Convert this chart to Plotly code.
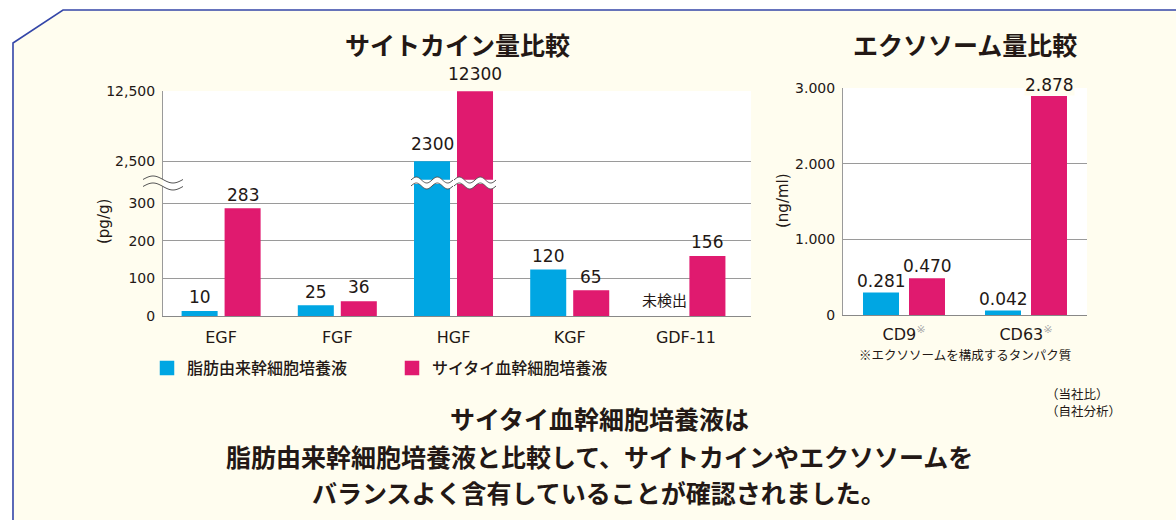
import math
import plotly.graph_objects as go

# ---------------- data ----------------
cytokines = ["EGF", "FGF", "HGF", "KGF", "GDF-11"]
adipose_cyto = [10, 25, 2300, 120, None]        # None = 未検出
saitai_cyto = [283, 36, 12300, 65, 156]
exosome_markers = ["CD9", "CD63"]
adipose_exo = [0.281, 0.042]
saitai_exo = [0.470, 2.878]
series_names = ["脂肪由来幹細胞培養液", "サイタイ血幹細胞培養液"]
lower_ticks = [0, 100, 200, 300]
upper_ticks = [2500, 12500]
upper_ticktext = ["2,500", "12,500"]
exo_ticks = [0, 1, 2, 3]
exo_ticktext = ["0", "1.000", "2.000", "3.000"]
not_detected = "未検出"

# ---------------- style ----------------
W, H = 1176, 520
BLUE = "#00a6e3"
PINK = "#e01a6f"
CREAM = "#fffdef"
DARK = "#231815"
GRID = "#9a9a9a"
NUM_FONT = "DejaVu Sans, Noto Sans CJK JP"
JP_FONT = "Noto Sans CJK JP"

def pxx(px):
    return px / W

def pxy(py):
    return 1 - py / H

# left chart geometry
LX0, LX1 = 163, 751
L_RANGE = [-0.5, 4.56]
L_BOTTOM, L_BREAK, L_TOP = 316, 184, 91
LOWER_MAX = 351
UPPER_MIN = -786
# right chart geometry
RX0, RX1 = 843, 1087
R_BOTTOM, R_TOP = 315, 88

LPX = (LX1 - LX0) / (L_RANGE[1] - L_RANGE[0])   # px per category (left)
RPX = (RX1 - RX0) / 2.0                          # px per category (right)
EDGE = 2.5                                       # outline width (enlarges legend swatch)

LW, LOFF_B, LOFF_P = 0.31, -0.34, 0.03
RW, ROFF_B, ROFF_P = 0.295, -0.336, 0.041
le, re_ = EDGE / LPX, EDGE / RPX

fig = go.Figure()

upper_vals_b = [v if (v is not None and v > LOWER_MAX) else None for v in adipose_cyto]
upper_vals_p = [v if v > LOWER_MAX else None for v in saitai_cyto]

def bar(x, y, name, color, w, off, e, xa, ya, legend):
    return go.Bar(x=x, y=y, name=name, marker=dict(color=color, line=dict(color=color, width=EDGE)),
                  width=w - e, offset=off + e / 2, xaxis=xa, yaxis=ya, showlegend=legend,
                  cliponaxis=True)

fig.add_trace(bar(cytokines, adipose_cyto, series_names[0], BLUE, LW, LOFF_B, le, "x", "y", True))
fig.add_trace(bar(cytokines, saitai_cyto, series_names[1], PINK, LW, LOFF_P, le, "x", "y", True))
fig.add_trace(bar(cytokines, upper_vals_b, series_names[0], BLUE, LW, LOFF_B, le, "x2", "y2", False))
fig.add_trace(bar(cytokines, upper_vals_p, series_names[1], PINK, LW, LOFF_P, le, "x2", "y2", False))
fig.add_trace(bar(exosome_markers, adipose_exo, series_names[0], BLUE, RW, ROFF_B, re_, "x3", "y3", False))
fig.add_trace(bar(exosome_markers, saitai_exo, series_names[1], PINK, RW, ROFF_P, re_, "x3", "y3", False))

annotations = []
LABEL_FONT = dict(family=NUM_FONT, size=17, color=DARK)

def add_label(x, y, text, xref, yref, font=LABEL_FONT, yshift=3, bg=None):
    a = dict(x=x, y=y, text=text, xref=xref, yref=yref, showarrow=False,
             xanchor="center", yanchor="bottom", yshift=yshift, font=font)
    if bg:
        a["bgcolor"] = bg
        a["borderpad"] = 0
    annotations.append(a)

for i, v in enumerate(adipose_cyto):
    cx = i + LOFF_B + LW / 2
    if v is None:
        add_label(cx, 0, not_detected, "x", "y",
                  font=dict(family=JP_FONT, size=15, color=DARK), yshift=4)
    elif v > LOWER_MAX:
        add_label(cx, v, str(v), "x2", "y2", yshift=6)
    else:
        add_label(cx, v, str(v), "x", "y")
for i, v in enumerate(saitai_cyto):
    cx = i + LOFF_P + LW / 2
    if v > LOWER_MAX:
        add_label(cx, v, str(v), "x2", "y2", yshift=6)
    else:
        add_label(cx, v, str(v), "x", "y")
for i, v in enumerate(adipose_exo):
    add_label(i + ROFF_B + RW / 2, v, f"{v:.3f}", "x3", "y3", yshift=1)
for i, v in enumerate(saitai_exo):
    add_label(i + ROFF_P + RW / 2, v, f"{v:.3f}", "x3", "y3", yshift=1,
              bg=CREAM if v > 2.7 else None)

def paper_text(x, y, text, size, bold=False, xanchor="center", family=JP_FONT, angle=0, color=DARK):
    annotations.append(dict(x=pxx(x), y=pxy(y), xref="paper", yref="paper", text=text,
                            showarrow=False, xanchor=xanchor, yanchor="middle", textangle=angle,
                            font=dict(family=family, size=size, color=color,
                                      weight="bold" if bold else "normal")))

paper_text(457, 44, "サイトカイン量比較", 25, bold=True)
paper_text(965, 44, "エクソソーム量比較", 25, bold=True)
paper_text(104, 222, "(pg/g)", 15, family=NUM_FONT, angle=-90)
paper_text(783, 201, "(ng/ml)", 15, family=NUM_FONT, angle=-90)
paper_text(965, 354, "※エクソソームを構成するタンパク質", 12.5)
paper_text(1044, 393, "（当社比）", 12.5, xanchor="left")
paper_text(1044, 410, "（自社分析）", 12.5, xanchor="left")
paper_text(599, 418, "サイタイ血幹細胞培養液は", 25, bold=True)
paper_text(599, 456, "脂肪由来幹細胞培養液と比較して、サイトカインやエクソソームを", 25, bold=True)
paper_text(599, 492, "バランスよく含有していることが確認されました。", 25, bold=True)

# ---------------- shapes ----------------
def to_path(points, close=False):
    s = "M " + " L ".join(f"{pxx(x):.5f},{pxy(y):.5f}" for x, y in points)
    return s + (" Z" if close else "")

shapes = []
shapes.append(dict(type="path", xref="paper", yref="paper", layer="below",
                   path=to_path([(0, 0), (W, 0), (W, 10), (63, 10), (13, 43), (13, H), (0, H)], True),
                   fillcolor="white", line=dict(width=0)))
shapes.append(dict(type="path", xref="paper", yref="paper",
                   path=to_path([(13, H + 2), (13, 43), (63, 10), (W + 2, 10)]),
                   line=dict(color="#3446a8", width=1.6)))

def wave_pts(x0, x1, xs, yc, amp, period, n=40):
    pts = []
    for k in range(n + 1):
        x = x0 + (x1 - x0) * k / n
        pts.append((x, yc - amp * math.sin(2 * math.pi * (x - xs) / period)))
    return pts

def add_break(x0, x1, yc, amp, period, gap, fills):
    for xa, xb, col in fills:
        top = wave_pts(xa, xb, x0, yc - gap / 2, amp, period)
        bot = wave_pts(xa, xb, x0, yc + gap / 2, amp, period)
        shapes.append(dict(type="path", xref="paper", yref="paper",
                           path=to_path(top + bot[::-1], True), fillcolor=col, line=dict(width=0)))
    for off in (-gap / 2, gap / 2):
        shapes.append(dict(type="path", xref="paper", yref="paper",
                           path=to_path(wave_pts(x0, x1, x0, yc + off, amp, period)),
                           line=dict(color="#555555", width=1)))

def xpix(v):
    return LX0 + (v - L_RANGE[0]) * LPX

add_break(143, 183, 183, 3.5, 40, 7, [(143, LX0, CREAM), (LX0, 183, "white")])
hgf = cytokines.index("HGF")
for off in (LOFF_B, LOFF_P):
    c = xpix(hgf + off + LW / 2)
    add_break(c - 21, c + 21, 183, 3, 21, 6, [(c - 21, c + 21, "white")])

# ---------------- layout ----------------
axis_common = dict(showgrid=False, zeroline=False, ticks="", fixedrange=True, automargin=False)
yaxis_common = dict(showgrid=True, gridcolor=GRID, gridwidth=1, zeroline=False, ticks="",
                    showline=True, linecolor=GRID, linewidth=1, automargin=False, fixedrange=True,
                    tickfont=dict(family=NUM_FONT, size=14, color=DARK), ticklabelstandoff=4)

fig.update_layout(
    template="none",
    width=W, height=H, margin=dict(l=0, r=0, t=0, b=0, pad=0, autoexpand=False),
    paper_bgcolor=CREAM, plot_bgcolor="white",
    barmode="overlay",
    xaxis=dict(**axis_common, domain=[pxx(LX0), pxx(LX1)], range=L_RANGE, anchor="y",
               showline=True, linecolor="#888888", linewidth=1, type="category",
               tickfont=dict(family=NUM_FONT, size=16, color=DARK), ticklabelstandoff=7),
    yaxis=dict(**yaxis_common, domain=[pxy(L_BOTTOM), pxy(L_BREAK)], range=[0, LOWER_MAX],
               tickvals=lower_ticks, anchor="x"),
    xaxis2=dict(**axis_common, domain=[pxx(LX0), pxx(LX1)], range=L_RANGE, anchor="y2",
                matches="x", visible=False, type="category"),
    yaxis2=dict(**yaxis_common, domain=[pxy(L_BREAK), pxy(L_TOP)], range=[UPPER_MIN, 12500],
                tickvals=upper_ticks, ticktext=upper_ticktext, anchor="x2"),
    xaxis3=dict(**axis_common, domain=[pxx(RX0), pxx(RX1)], range=[-0.5, 1.5], anchor="y3",
                showline=True, linecolor="#888888", linewidth=1, type="category",
                tickvals=exosome_markers,
                ticktext=[f"{m}<sup><span style='color:#a8a8a8'>※</span></sup>" for m in exosome_markers],
                tickfont=dict(family=NUM_FONT, size=16, color=DARK), ticklabelstandoff=5),
    yaxis3=dict(**yaxis_common, domain=[pxy(R_BOTTOM), pxy(R_TOP)], range=[0, 3],
                tickvals=exo_ticks, ticktext=exo_ticktext, anchor="x3"),
    legend=dict(orientation="h", x=pxx(147), y=pxy(351), xanchor="left", yanchor="top",
                font=dict(family=JP_FONT, size=16, color=DARK, weight=500), entrywidth=200,
                bgcolor="rgba(0,0,0,0)", itemclick=False, itemdoubleclick=False,
                traceorder="normal"),
    annotations=annotations,
    shapes=shapes,
)

post = (
    "var de=document.documentElement, b=document.body;"
    "de.style.margin='0';de.style.padding='0';de.style.overflow='hidden';de.style.height='520px';"
    "b.style.margin='0';b.style.padding='0';b.style.overflow='hidden';b.style.height='520px';"
    "var d=document.getElementById('{plot_id}');"
    "if(d){d.style.height='520px';d.style.overflow='hidden';"
    "d.parentElement.style.height='520px';d.parentElement.style.overflow='hidden';}"
)
fig.write_html("out.html", config={"displayModeBar": False}, post_script=post)
